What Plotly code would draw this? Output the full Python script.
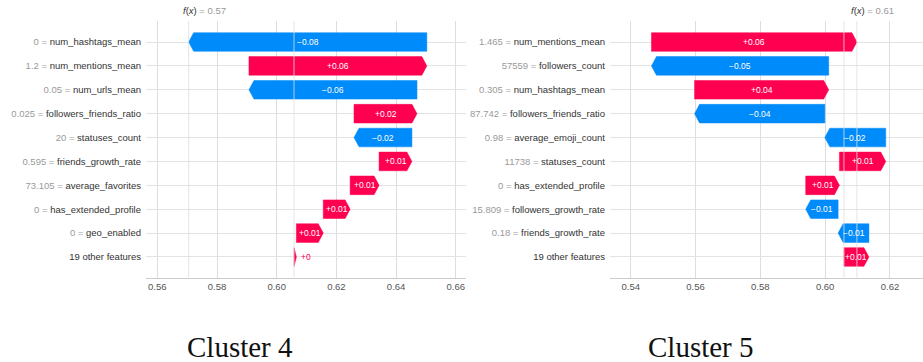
import plotly.graph_objects as go

# ---------------- data ----------------
features_c4 = ["num_hashtags_mean", "num_mentions_mean", "num_urls_mean",
               "followers_friends_ratio", "statuses_count", "friends_growth_rate",
               "average_favorites", "has_extended_profile", "geo_enabled",
               "19 other features"]
values_c4 = ["0", "1.2", "0.05", "0.025", "20", "0.595", "73.105", "0", "0", None]
shap_c4 = [-0.0798, 0.0596, -0.0563, 0.0211, -0.0194, 0.0110, 0.0097, 0.0090, 0.0090, 0.0008]
base_c4 = 0.6058

features_c5 = ["num_mentions_mean", "followers_count", "num_hashtags_mean",
               "followers_friends_ratio", "average_emoji_count", "statuses_count",
               "has_extended_profile", "followers_growth_rate", "friends_growth_rate",
               "19 other features"]
values_c5 = ["1.465", "57559", "0.305", "87.742", "0.98", "11738", "0", "15.809", "0.18", None]
shap_c5 = [0.0634, -0.0547, 0.0414, -0.0402, -0.0188, 0.0143, 0.0104, -0.0100, -0.0095, 0.0077]
base_c5 = 0.6058

xticks_c4 = [0.56, 0.58, 0.60, 0.62, 0.64, 0.66]
xticks_c5 = [0.54, 0.56, 0.58, 0.60, 0.62]
titles = ["Cluster 4", "Cluster 5"]

# ---------------- style ----------------
W, H = 923, 362
RED = "#ff0051"
BLUE = "#008bfb"
SANS = "Liberation Sans, Arial, sans-serif"
Y_TOP_PX, Y_BOT_PX = 21, 277.5
ydom = [(H - Y_BOT_PX) / H, (H - Y_TOP_PX) / H]
BAR_H = 0.78
HEAD_PX = 5

panels = [
    dict(feat=features_c4, vals=values_c4, shap=shap_c4, base=base_c4, ticks=xticks_c4,
         title=titles[0], dom_px=(146, 466), rng=[0.55621, 0.66342], xa="x", ya="y",
         title_x=240),
    dict(feat=features_c5, vals=values_c5, shap=shap_c5, base=base_c5, ticks=xticks_c5,
         title=titles[1], dom_px=(610, 923), rng=[0.53361, 0.63019], xa="x2", ya="y2",
         title_x=700.5),
]


def fmt(v):
    s = f"{v:+.2f}".rstrip("0").rstrip(".")
    return s.replace("-", "\u2212")


fig = go.Figure()
annotations = []
shapes = []
layout_axes = {}

for k, p in enumerate(panels):
    n = len(p["feat"])
    px_per_unit = (p["dom_px"][1] - p["dom_px"][0]) / (p["rng"][1] - p["rng"][0])
    head = HEAD_PX / px_per_unit
    cur = p["base"]
    starts = [0.0] * n
    ends = [0.0] * n
    for i in range(n - 1, -1, -1):
        starts[i] = cur
        ends[i] = cur + p["shap"][i]
        cur = ends[i]
    fx = cur

    for i in range(n):
        v = p["shap"][i]
        s, e = starts[i], ends[i]
        sign = 1 if v >= 0 else -1
        hl = sign * min(head, abs(v))
        y = i
        xs = [s, e - hl, e, e - hl, s, s]
        ys = [y - BAR_H / 2, y - BAR_H / 2, y, y + BAR_H / 2, y + BAR_H / 2, y - BAR_H / 2]
        col = RED if v >= 0 else BLUE
        fig.add_trace(go.Scatter(x=xs, y=ys, fill="toself", fillcolor=col, mode="lines",
                                 line=dict(width=0.5, color=col), hoverinfo="skip",
                                 xaxis=p["xa"], yaxis=p["ya"], showlegend=False))
        label = fmt(v)
        bar_px = abs(v) * px_per_unit
        if len(label) * 4.3 > bar_px:
            annotations.append(dict(x=e, y=y, xref=p["xa"], yref=p["ya"], text=label,
                                    showarrow=False, xanchor="left" if v >= 0 else "right",
                                    xshift=3 if v >= 0 else -3,
                                    font=dict(family=SANS, size=8.5, color=col)))
        else:
            annotations.append(dict(x=(s + e) / 2, y=y, xref=p["xa"], yref=p["ya"], text=label,
                                    showarrow=False, xanchor="center",
                                    font=dict(family=SANS, size=8.5, color="white")))

    # base and f(x) lines
    for xv in (p["base"], fx):
        shapes.append(dict(type="line", xref=p["xa"], yref=p["ya"] + " domain",
                           x0=xv, x1=xv, y0=0, y1=1, layer="above",
                           line=dict(color="rgba(222,222,222,0.8)", width=1)))

    # f(x) label
    annotations.append(dict(x=fx, y=(H - 10.7) / H, xref=p["xa"], yref="paper",
                            xanchor="left", yanchor="middle", xshift=-8, showarrow=False,
                            text=f"<i>f</i>(<i>x</i>)<span style='color:#9a9a9a'> = {fx:.2f}</span>",
                            font=dict(family=SANS, size=9.5, color="#333333")))

    # cluster title
    annotations.append(dict(x=p["title_x"] / W, y=(H - 347) / H, xref="paper", yref="paper",
                            xanchor="center", yanchor="middle", showarrow=False,
                            text=p["title"],
                            font=dict(family="Liberation Serif, serif", size=29, color="#111111")))

    ticktext = []
    for f, val in zip(p["feat"], p["vals"]):
        if val is None:
            ticktext.append(f)
        else:
            ticktext.append(f"<span style='color:#9a9a9a'>{val} = </span>{f}")

    suffix = "" if k == 0 else "2"
    layout_axes["xaxis" + suffix] = dict(
        domain=[p["dom_px"][0] / W, p["dom_px"][1] / W], range=p["rng"],
        anchor=p["ya"], tickvals=p["ticks"], ticktext=[f"{t:.2f}" for t in p["ticks"]],
        showgrid=True, gridcolor="#dddddd", gridwidth=1, zeroline=False,
        showline=True, linecolor="#cccccc", linewidth=1, ticks="",
        tickfont=dict(family=SANS, size=9.5, color="#555555"), fixedrange=True)
    layout_axes["yaxis" + suffix] = dict(
        domain=ydom, range=[9.86, -0.88], anchor=p["xa"],
        tickvals=list(range(n)), ticktext=ticktext, showgrid=True, gridcolor="#e3e3e3",
        gridwidth=1, zeroline=False, showline=False, ticks="", ticklabelstandoff=4,
        tickfont=dict(family=SANS, size=9.5, color="#333333"), fixedrange=True)

fig.update_layout(width=W, height=H, margin=dict(l=0, r=0, t=0, b=0),
                  plot_bgcolor="white", paper_bgcolor="white", showlegend=False,
                  annotations=annotations, shapes=shapes, **layout_axes)

fig.write_html("out.html")
